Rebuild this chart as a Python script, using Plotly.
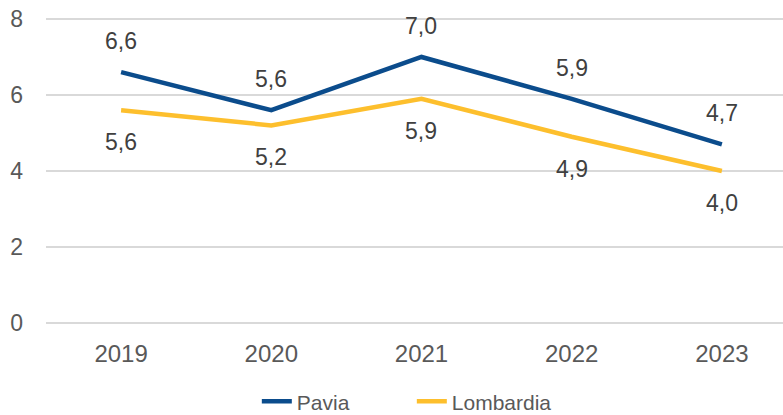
import plotly.graph_objects as go

years = ["2019", "2020", "2021", "2022", "2023"]
pavia = [6.6, 5.6, 7.0, 5.9, 4.7]
lombardia = [5.6, 5.2, 5.9, 4.9, 4.0]
y_ticks = [0, 2, 4, 6, 8]

xs = list(range(len(years)))
PAVIA_C = "#0B4C8C"
LOMB_C = "#FDBF2D"
FONT = "Liberation Sans, Arial, sans-serif"

fig = go.Figure()
fig.add_trace(go.Scatter(x=xs, y=pavia, mode="lines", name="Pavia",
                         line=dict(color=PAVIA_C, width=4.5)))
fig.add_trace(go.Scatter(x=xs, y=lombardia, mode="lines", name="Lombardia",
                         line=dict(color=LOMB_C, width=4.5)))

def fmt(v):
    return f"{v:.1f}".replace(".", ",")

anns = []
for x, v in zip(xs, pavia):
    anns.append(dict(x=x, y=v, text=fmt(v), showarrow=False, yshift=31,
                     font=dict(family=FONT, size=23, color="#404040")))
for x, v in zip(xs, lombardia):
    anns.append(dict(x=x, y=v, text=fmt(v), showarrow=False, yshift=-32,
                     font=dict(family=FONT, size=23, color="#404040")))

fig.update_layout(
    width=783, height=415,
    margin=dict(l=46, r=0, t=17, b=90, autoexpand=False),
    plot_bgcolor="white", paper_bgcolor="white",
    font=dict(family=FONT, size=23, color="#595959"),
    annotations=anns,
    showlegend=True,
    legend=dict(orientation="h", x=0.328, xanchor="left", xref="container",
                y=0.032, yanchor="middle", yref="container",
                font=dict(family=FONT, size=21, color="#595959"),
                entrywidth=110, entrywidthmode="pixels",
                itemwidth=30, tracegroupgap=0),
    xaxis=dict(range=[-0.5, 4.407], tickmode="array", tickvals=xs, ticktext=years,
               showgrid=False, zeroline=False, showline=False, ticks="",
               automargin=False, ticklabelstandoff=12,
               tickfont=dict(size=24, color="#595959"), fixedrange=True),
    yaxis=dict(range=[-0.052, 8.052], tickmode="array", tickvals=y_ticks,
               ticktext=[str(t) for t in y_ticks],
               showgrid=True, gridcolor="#D9D9D9", gridwidth=1.5,
               zeroline=False, showline=False, ticks="", automargin=False,
               tickfont=dict(size=23, color="#595959"), ticklabelstandoff=22),
)

fig.write_html("out.html", config={"displayModeBar": False},
               post_script="document.body.style.margin='0';document.body.style.overflow='hidden';")
